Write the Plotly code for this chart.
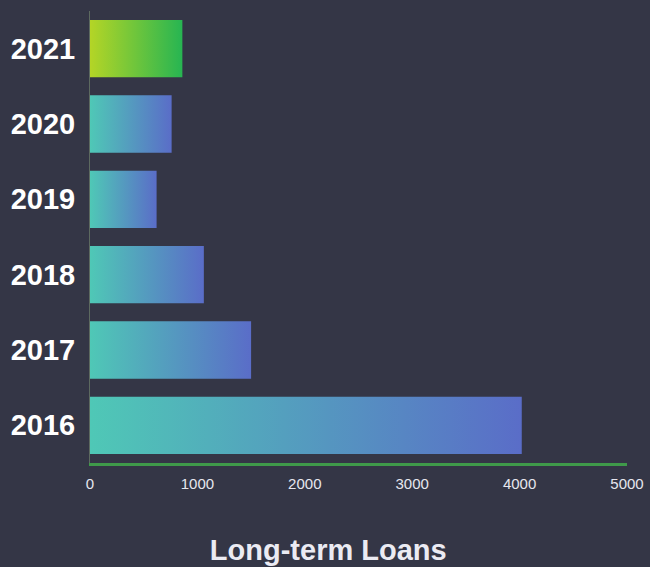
import plotly.graph_objects as go

# Long-term loans by year
years = [2016, 2017, 2018, 2019, 2020, 2021]
loans = [4020, 1500, 1060, 620, 760, 860]
x_ticks = [0, 1000, 2000, 3000, 4000, 5000]

BG = "#343646"
BAR_HALF = 0.38
default_scale = [[0, "#4fc8b6"], [1, "#5a6dc8"]]
highlight_scale = [[0, "#b4d526"], [1, "#27b552"]]

fig = go.Figure()

for yr, val in zip(years, loans):
    scale = highlight_scale if yr == years[-1] else default_scale
    fig.add_trace(go.Scatter(
        x=[0, val, val, 0, 0],
        y=[yr - BAR_HALF, yr - BAR_HALF, yr + BAR_HALF, yr + BAR_HALF, yr - BAR_HALF],
        mode="lines",
        line=dict(width=0),
        fill="toself",
        fillgradient=dict(type="horizontal", colorscale=scale),
        name=str(yr),
        hovertemplate=f"{yr}: {val}<extra></extra>",
        showlegend=False,
    ))

fig.update_layout(
    width=650, height=567,
    paper_bgcolor=BG, plot_bgcolor=BG,
    margin=dict(l=90, r=23, t=11, b=104),
    title=dict(
        text="<b>Long-term Loans</b>",
        x=0.505, xref="container", xanchor="center",
        y=0.03, yref="container", yanchor="middle",
        font=dict(family="Liberation Sans", size=29, color="#ebebf3"),
    ),
)

fig.update_xaxes(
    range=[0, 5000], tickvals=x_ticks, ticktext=[str(v) for v in x_ticks],
    showgrid=False, zeroline=False, automargin=False,
    showline=True, linecolor="#3f9a4a", linewidth=3,
    ticks="", ticklabelstandoff=5,
    tickfont=dict(family="Liberation Sans", size=15, color="#e6e6ee"),
)
fig.update_yaxes(
    range=[years[0] - 0.5, years[-1] + 0.5], tickvals=years,
    ticktext=[str(y) for y in years],
    showgrid=False, zeroline=False, automargin=False,
    showline=True, linecolor="#5d6a60", linewidth=1,
    ticks="", ticklabelstandoff=8,
    tickfont=dict(family="Liberation Sans", size=29, color="#ffffff", weight="bold"),
)

fig.write_html("out.html")
